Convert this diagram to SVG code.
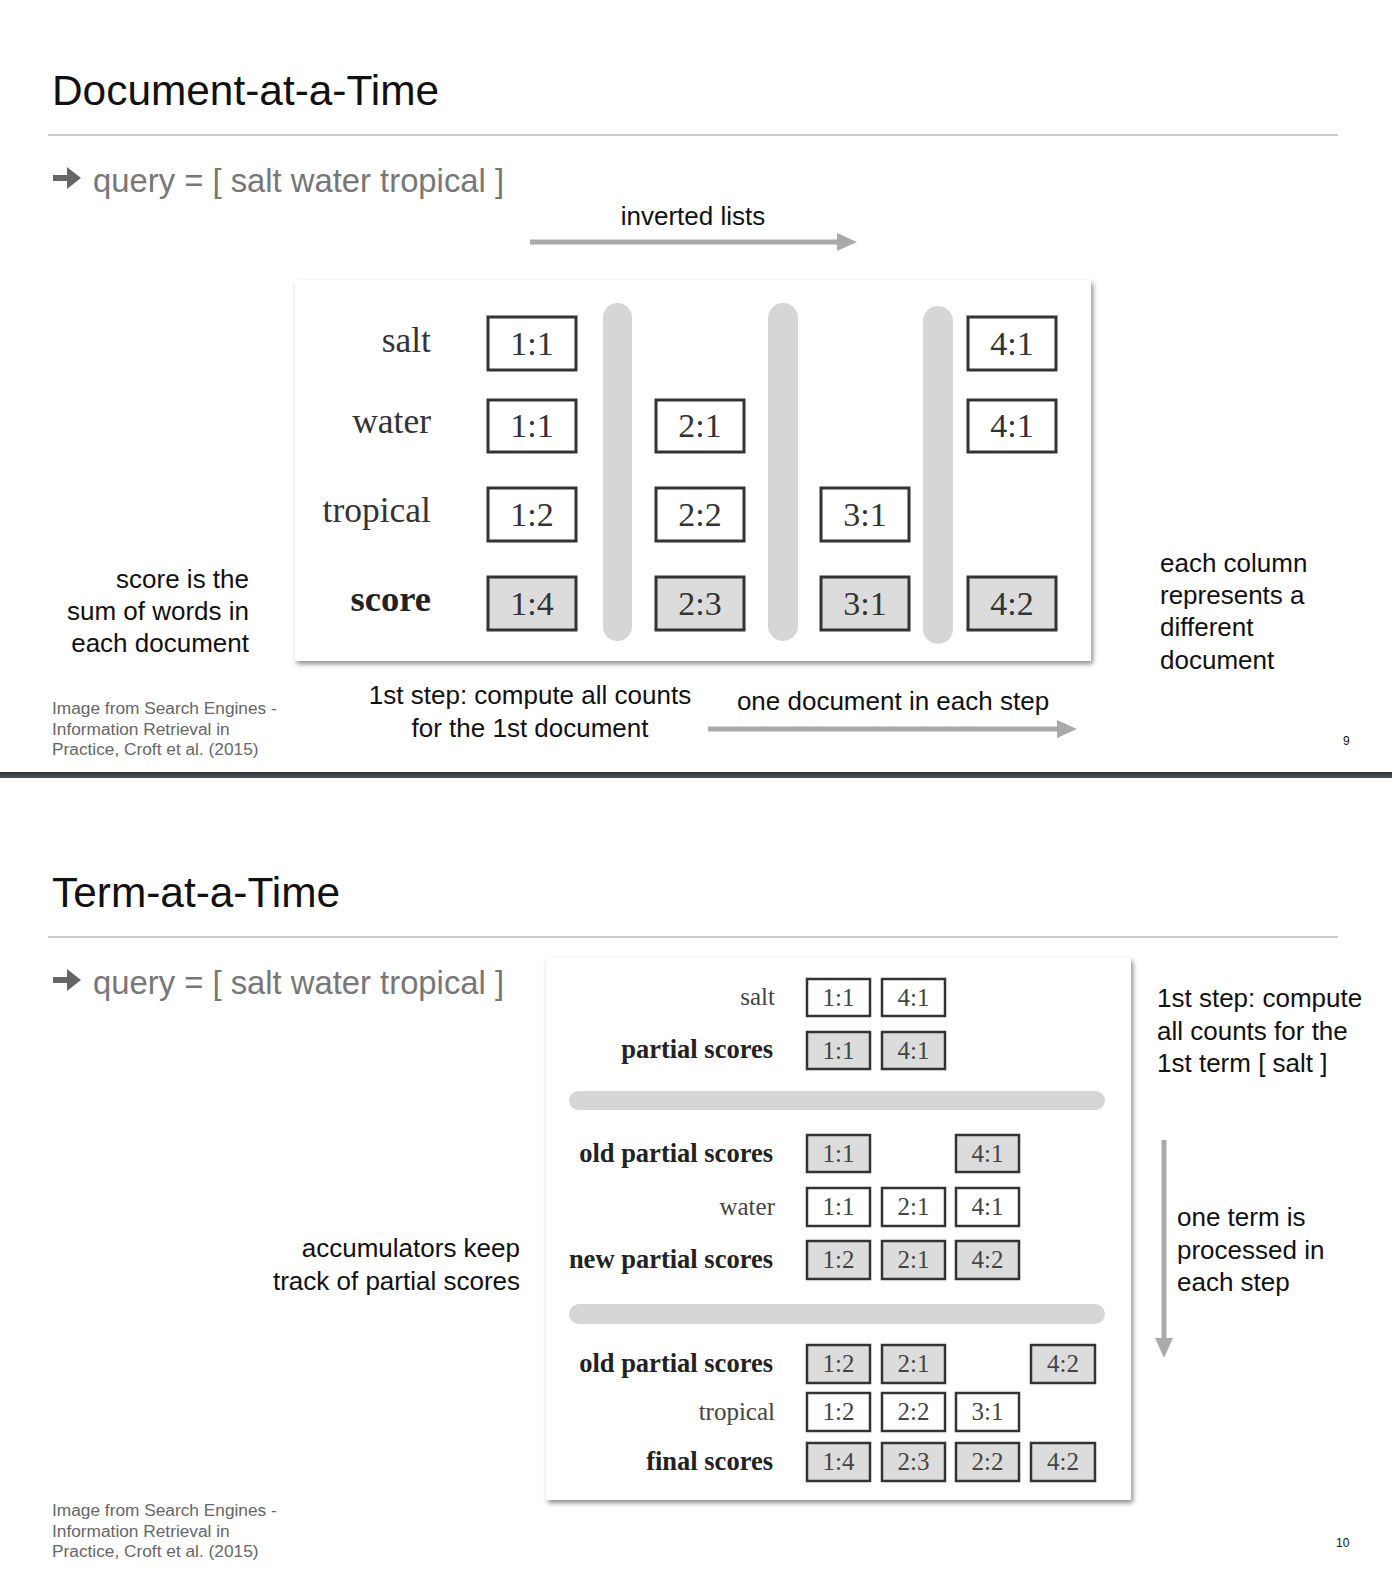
<svg xmlns="http://www.w3.org/2000/svg" width="1392" height="1570" viewBox="0 0 1392 1570">
<defs>
<style>
.title{font-family:"Liberation Sans",Arial,sans-serif;font-size:42.4px;fill:#111}
.query{font-family:"Liberation Sans",Arial,sans-serif;font-size:32.8px;fill:#777}
.note{font-family:"Liberation Sans",Arial,sans-serif;font-size:26px;fill:#111}
.foot{font-family:"Liberation Sans",Arial,sans-serif;font-size:17.3px;fill:#666}
.pg{font-family:"Liberation Sans",Arial,sans-serif;font-size:12px;fill:#111}
.rl{font-family:"Liberation Serif","Times New Roman",serif;font-size:35.5px;fill:#333;text-anchor:end}
.rlb{font-family:"Liberation Serif","Times New Roman",serif;font-size:36.5px;fill:#222;font-weight:bold;text-anchor:end}
.bx{stroke:#333;stroke-width:3;fill:#fff}
.bg{stroke:#333;stroke-width:3;fill:#dcdcdc}
.bt{font-family:"Liberation Serif","Times New Roman",serif;font-size:34px;fill:#333;text-anchor:middle}
.rl2{font-family:"Liberation Serif","Times New Roman",serif;font-size:25px;fill:#444;text-anchor:end}
.rlb2{font-family:"Liberation Serif","Times New Roman",serif;font-size:26.5px;fill:#222;font-weight:bold;text-anchor:end}
.bx2{stroke:#333;stroke-width:2.5;fill:#fff}
.bg2{stroke:#333;stroke-width:2.5;fill:#dcdcdc}
.bt2{font-family:"Liberation Serif","Times New Roman",serif;font-size:25px;fill:#444;text-anchor:middle}
.sep{fill:#d6d6d6}
.arr{stroke:#aaa;stroke-width:5;fill:none}
.ah{fill:#aaa}
.rule{stroke:#bbb;stroke-width:1.5}
</style>
<filter id="sh" x="-5%" y="-5%" width="112%" height="115%">
<feDropShadow dx="2" dy="3" stdDeviation="2.5" flood-color="#000" flood-opacity="0.45"/>
</filter>
<linearGradient id="bar" x1="0" y1="0" x2="0" y2="1">
<stop offset="0" stop-color="#2e3033"/>
<stop offset="1" stop-color="#50555a"/>
</linearGradient>
</defs>
<rect width="1392" height="1570" fill="#fff"/>

<!-- Slide 1 -->
<g id="slide1-header">
<text class="title" x="52" y="105">Document-at-a-Time</text>
<line class="rule" x1="48" y1="135" x2="1338" y2="135"/>
<path d="M53,175 h14 v-8 l14,11 l-14,11 v-8 h-14 z" fill="#666"/>
<text class="query" x="93" y="192">query = [ salt water tropical ]</text>
</g>

<g id="daat-figure">
<rect x="295" y="280" width="796" height="381" fill="#fff" filter="url(#sh)"/>
<rect class="sep" x="603" y="303" width="29" height="338" rx="14.5"/>
<rect class="sep" x="768" y="303" width="30" height="338" rx="15"/>
<rect class="sep" x="923" y="306" width="30" height="338" rx="15"/>
<text class="rl" x="431" y="352">salt</text>
<text class="rl" x="431" y="433">water</text>
<text class="rl" x="431" y="522">tropical</text>
<text class="rlb" x="431" y="611">score</text>
<g id="d-salt-1"><rect class="bx" x="488" y="317" width="88" height="53"/><text class="bt" x="532" y="355">1:1</text></g>
<g id="d-salt-4"><rect class="bx" x="968" y="317" width="88" height="53"/><text class="bt" x="1012" y="355">4:1</text></g>
<g id="d-water-1"><rect class="bx" x="488" y="400" width="88" height="52"/><text class="bt" x="532" y="437">1:1</text></g>
<g id="d-water-2"><rect class="bx" x="656" y="400" width="88" height="52"/><text class="bt" x="700" y="437">2:1</text></g>
<g id="d-water-4"><rect class="bx" x="968" y="400" width="88" height="52"/><text class="bt" x="1012" y="437">4:1</text></g>
<g id="d-trop-1"><rect class="bx" x="488" y="488" width="88" height="53"/><text class="bt" x="532" y="526">1:2</text></g>
<g id="d-trop-2"><rect class="bx" x="656" y="488" width="88" height="53"/><text class="bt" x="700" y="526">2:2</text></g>
<g id="d-trop-3"><rect class="bx" x="821" y="488" width="88" height="53"/><text class="bt" x="865" y="526">3:1</text></g>
<g id="d-score-1"><rect class="bg" x="488" y="577" width="88" height="53"/><text class="bt" x="532" y="615">1:4</text></g>
<g id="d-score-2"><rect class="bg" x="656" y="577" width="88" height="53"/><text class="bt" x="700" y="615">2:3</text></g>
<g id="d-score-3"><rect class="bg" x="821" y="577" width="88" height="53"/><text class="bt" x="865" y="615">3:1</text></g>
<g id="d-score-4"><rect class="bg" x="968" y="577" width="88" height="53"/><text class="bt" x="1012" y="615">4:2</text></g>
</g>

<g id="slide1-notes">
<text class="note" x="693" y="225" text-anchor="middle">inverted lists</text>
<text class="note" x="249" y="588" text-anchor="end">score is the</text>
<text class="note" x="249" y="620" text-anchor="end">sum of words in</text>
<text class="note" x="249" y="652" text-anchor="end">each document</text>
<text class="note" x="1160" y="572">each column</text>
<text class="note" x="1160" y="604">represents a</text>
<text class="note" x="1160" y="636">different</text>
<text class="note" x="1160" y="669">document</text>
<text class="note" x="530" y="704" text-anchor="middle">1st step: compute all counts</text>
<text class="note" x="530" y="737" text-anchor="middle">for the 1st document</text>
<text class="note" x="893" y="710" text-anchor="middle">one document in each step</text>
<text class="foot" x="52" y="714">Image from Search Engines -</text>
<text class="foot" x="52" y="735">Information Retrieval in</text>
<text class="foot" x="52" y="755">Practice, Croft et al. (2015)</text>
<text class="pg" x="1343" y="745">9</text>
</g>

<g id="connectors">
<line class="arr" x1="530" y1="242" x2="840" y2="242"/>
<path class="ah" d="M837,233 L857,242 L837,251 Z"/>
<line class="arr" x1="708" y1="729" x2="1060" y2="729"/>
<path class="ah" d="M1057,720 L1077,729 L1057,738 Z"/>
<line class="arr" x1="1164" y1="1140" x2="1164" y2="1340"/>
<path class="ah" d="M1155,1338 L1164,1358 L1173,1338 Z"/>
</g>

<rect x="0" y="772" width="1392" height="6" fill="url(#bar)"/>

<!-- Slide 2 -->
<g id="slide2-header">
<text class="title" x="52" y="907">Term-at-a-Time</text>
<line class="rule" x1="48" y1="937" x2="1338" y2="937"/>
<path d="M53,977 h14 v-8 l14,11 l-14,11 v-8 h-14 z" fill="#666"/>
<text class="query" x="93" y="994">query = [ salt water tropical ]</text>
</g>

<g id="taat-figure">
<rect x="546" y="958" width="585" height="542" fill="#fff" filter="url(#sh)"/>
<rect class="sep" x="569" y="1091" width="536" height="19" rx="9.5"/>
<rect class="sep" x="569" y="1304" width="536" height="20" rx="10"/>
<text class="rl2" x="775" y="1005">salt</text>
<text class="rlb2" x="773" y="1058">partial scores</text>
<text class="rlb2" x="773" y="1162">old partial scores</text>
<text class="rl2" x="775" y="1215">water</text>
<text class="rlb2" x="773" y="1268">new partial scores</text>
<text class="rlb2" x="773" y="1372">old partial scores</text>
<text class="rl2" x="775" y="1420">tropical</text>
<text class="rlb2" x="773" y="1470">final scores</text>

<g id="t-salt-1"><rect class="bx2" x="807" y="979" width="63" height="37"/><text class="bt2" x="838.5" y="1006">1:1</text></g>
<g id="t-salt-4"><rect class="bx2" x="882" y="979" width="63" height="37"/><text class="bt2" x="913.5" y="1006">4:1</text></g>
<g id="t-ps-1"><rect class="bg2" x="807" y="1032" width="63" height="37"/><text class="bt2" x="838.5" y="1059">1:1</text></g>
<g id="t-ps-4"><rect class="bg2" x="882" y="1032" width="63" height="37"/><text class="bt2" x="913.5" y="1059">4:1</text></g>

<g id="t-ops-1"><rect class="bg2" x="807" y="1135" width="63" height="37"/><text class="bt2" x="838.5" y="1162">1:1</text></g>
<g id="t-ops-4"><rect class="bg2" x="956" y="1135" width="63" height="37"/><text class="bt2" x="987.5" y="1162">4:1</text></g>
<g id="t-water-1"><rect class="bx2" x="807" y="1188" width="63" height="38"/><text class="bt2" x="838.5" y="1215">1:1</text></g>
<g id="t-water-2"><rect class="bx2" x="882" y="1188" width="63" height="38"/><text class="bt2" x="913.5" y="1215">2:1</text></g>
<g id="t-water-4"><rect class="bx2" x="956" y="1188" width="63" height="38"/><text class="bt2" x="987.5" y="1215">4:1</text></g>
<g id="t-nps-1"><rect class="bg2" x="807" y="1241" width="63" height="38"/><text class="bt2" x="838.5" y="1268">1:2</text></g>
<g id="t-nps-2"><rect class="bg2" x="882" y="1241" width="63" height="38"/><text class="bt2" x="913.5" y="1268">2:1</text></g>
<g id="t-nps-4"><rect class="bg2" x="956" y="1241" width="63" height="38"/><text class="bt2" x="987.5" y="1268">4:2</text></g>

<g id="t-ops2-1"><rect class="bg2" x="807" y="1345" width="63" height="38"/><text class="bt2" x="838.5" y="1372">1:2</text></g>
<g id="t-ops2-2"><rect class="bg2" x="882" y="1345" width="63" height="38"/><text class="bt2" x="913.5" y="1372">2:1</text></g>
<g id="t-ops2-4"><rect class="bg2" x="1031" y="1345" width="64" height="38"/><text class="bt2" x="1063" y="1372">4:2</text></g>
<g id="t-trop-1"><rect class="bx2" x="807" y="1393" width="63" height="38"/><text class="bt2" x="838.5" y="1420">1:2</text></g>
<g id="t-trop-2"><rect class="bx2" x="882" y="1393" width="63" height="38"/><text class="bt2" x="913.5" y="1420">2:2</text></g>
<g id="t-trop-3"><rect class="bx2" x="956" y="1393" width="63" height="38"/><text class="bt2" x="987.5" y="1420">3:1</text></g>
<g id="t-fs-1"><rect class="bg2" x="807" y="1443" width="63" height="38"/><text class="bt2" x="838.5" y="1470">1:4</text></g>
<g id="t-fs-2"><rect class="bg2" x="882" y="1443" width="63" height="38"/><text class="bt2" x="913.5" y="1470">2:3</text></g>
<g id="t-fs-3"><rect class="bg2" x="956" y="1443" width="63" height="38"/><text class="bt2" x="987.5" y="1470">2:2</text></g>
<g id="t-fs-4"><rect class="bg2" x="1031" y="1443" width="64" height="38"/><text class="bt2" x="1063" y="1470">4:2</text></g>
</g>

<g id="slide2-notes">
<text class="note" x="1157" y="1007">1st step: compute</text>
<text class="note" x="1157" y="1040">all counts for the</text>
<text class="note" x="1157" y="1072">1st term [ salt ]</text>
<text class="note" x="1177" y="1226">one term is</text>
<text class="note" x="1177" y="1259">processed in</text>
<text class="note" x="1177" y="1291">each step</text>
<text class="note" x="520" y="1257" text-anchor="end">accumulators keep</text>
<text class="note" x="520" y="1290" text-anchor="end">track of partial scores</text>
<text class="foot" x="52" y="1516">Image from Search Engines -</text>
<text class="foot" x="52" y="1537">Information Retrieval in</text>
<text class="foot" x="52" y="1557">Practice, Croft et al. (2015)</text>
<text class="pg" x="1336" y="1547">10</text>
</g>
</svg>
